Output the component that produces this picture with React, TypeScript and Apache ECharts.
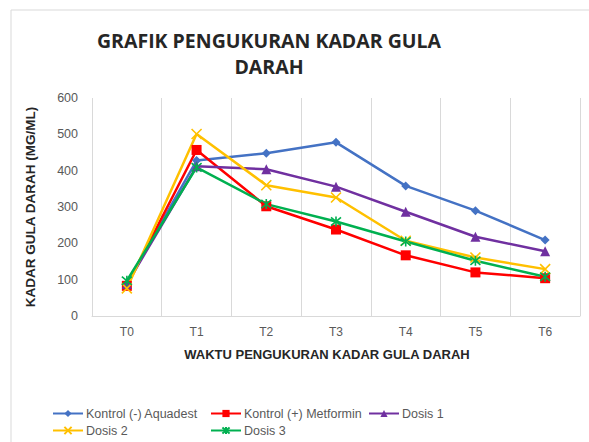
import React, { useEffect, useRef } from "react";
import * as echarts from "echarts";

const categories = ["T0", "T1", "T2", "T3", "T4", "T5", "T6"];
const kontrolNeg = [90, 428, 448, 478, 358, 290, 209];
const kontrolPos = [83, 457, 302, 238, 167, 120, 104];
const dosis1 = [88, 412, 404, 356, 287, 218, 178];
const dosis2 = [76, 501, 360, 326, 207, 161, 129];
const dosis3 = [97, 409, 308, 260, 205, 152, 108];
const seriesNames = ["Kontrol (-) Aquadest", "Kontrol (+) Metformin", "Dosis 1", "Dosis 2", "Dosis 3"];
const yTicks = [0, 100, 200, 300, 400, 500, 600];

const FONT = "'Liberation Sans', 'DejaVu Sans', sans-serif";
const TFONT = "'Open Sans', 'Liberation Sans', sans-serif";
const XPATH = "path://M0,0L10,10M10,0L0,10";
const STAR = "path://M0,0L10,10M10,0L0,10M5,-1L5,11";

export default function App() {
  const ref = useRef<HTMLDivElement>(null);
  useEffect(() => {
    if (!ref.current) return;
    const chart = echarts.init(ref.current, undefined, { renderer: "svg" });
    const mk = (name: string, data: number[], color: string, symbol: string, size: number, stroke = false) => ({
      type: "line",
      name,
      data,
      symbol,
      symbolSize: size,
      lineStyle: { color, width: 2.5 },
      itemStyle: { color, borderColor: color, borderWidth: stroke ? 1.6 : 0 },
      emphasis: { disabled: true },
    });
    const legendPos = [
      { left: 52, top: 407 },
      { left: 210, top: 407 },
      { left: 368, top: 407 },
      { left: 52, top: 424 },
      { left: 210, top: 424 },
    ];
    chart.setOption({
      animation: false,
      backgroundColor: "#ffffff",
      title: {
        text: "GRAFIK PENGUKURAN KADAR GULA\nDARAH",
        left: 264,
        top: 22,
        textAlign: "center",
        textStyle: { fontFamily: TFONT, fontSize: 19.5, fontWeight: "bold", color: "#262626", lineHeight: 26 },
      },
      legend: seriesNames.map((n, i) => ({
        data: [n],
        left: legendPos[i].left,
        top: legendPos[i].top,
        itemWidth: 30,
        itemHeight: 9,
        itemGap: 4,
        padding: 0,
        textStyle: { fontFamily: FONT, fontSize: 12.5, color: "#595959", padding: [0, 0, 0, -2] },
        selectedMode: false,
      })),
      grid: { left: 92, right: 9, top: 98, bottom: 126, containLabel: false },
      xAxis: {
        type: "category",
        data: categories,
        boundaryGap: true,
        axisLine: { show: true, lineStyle: { color: "#d9d9d9", width: 1 } },
        axisTick: { show: false },
        splitLine: { show: true, lineStyle: { color: "#d9d9d9", width: 1 } },
        axisLabel: { fontFamily: FONT, fontSize: 12, color: "#595959", margin: 10 },
      },
      yAxis: {
        type: "value",
        min: 0,
        max: 600,
        interval: 100,
        name: "KADAR GULA DARAH (MG/ML)",
        nameLocation: "middle",
        nameGap: 55,
        nameTextStyle: { fontFamily: FONT, fontSize: 13.5, fontWeight: "bold", color: "#262626" },
        axisLine: { show: false },
        axisTick: { show: false },
        splitLine: { show: false },
        axisLabel: {
          fontFamily: FONT,
          fontSize: 12.5,
          color: "#595959",
          margin: 14,
          formatter: (v: number) => (yTicks.includes(v) ? String(v) : ""),
        },
      },
      graphic: [
        {
          type: "rect",
          shape: { x: 11, y: 10, width: 600, height: 460 },
          style: { fill: "none", stroke: "#d9d9d9", lineWidth: 1 },
          silent: true,
        },
        {
          type: "text",
          x: 327,
          y: 354,
          style: {
            text: "WAKTU PENGUKURAN KADAR GULA DARAH",
            fontFamily: FONT,
            fontSize: 13,
            fontWeight: "bold",
            fill: "#262626",
            textAlign: "center",
            textVerticalAlign: "middle",
          },
        },
      ],
      series: [
        mk(seriesNames[0], kontrolNeg, "#4472C4", "diamond", 9),
        mk(seriesNames[1], kontrolPos, "#FF0000", "rect", 10),
        mk(seriesNames[2], dosis1, "#7030A0", "triangle", 10),
        mk(seriesNames[3], dosis2, "#FFC000", XPATH, 10, true),
        mk(seriesNames[4], dosis3, "#00B050", STAR, 10, true),
      ],
    });
    return () => chart.dispose();
  }, []);
  return (
    <div
      ref={ref}
      style={{ position: "absolute", left: 0, top: 0, width: 589, height: 442, background: "#fff" }}
    />
  );
}
